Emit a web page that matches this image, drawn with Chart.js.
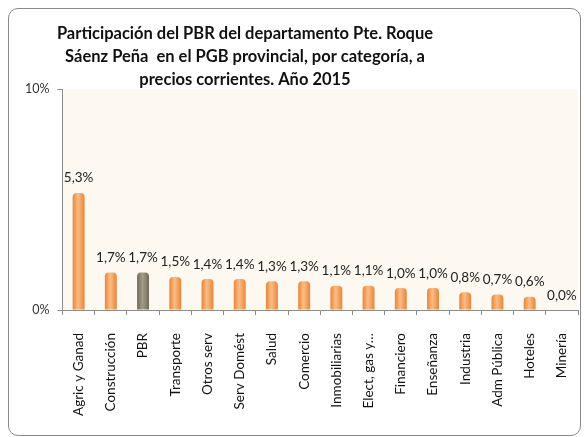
<!DOCTYPE html>
<html>
<head>
<meta charset="utf-8">
<script src="https://cdn.jsdelivr.net/npm/chart.js@4"></script>
<style>
body { margin: 0; background: #fff; }
#box { position: absolute; left: 8px; top: 8px; width: 573px; height: 428px; box-sizing: border-box;
       border: 1px solid #8a8a8a; border-radius: 10px; background: #fff; overflow: hidden; }
#c { position: absolute; left: 0; top: 0; }
</style>
</head>
<body>
<div id="box"><canvas id="c" width="571" height="426"></canvas></div>
<script>
const categories = ["Agric y Ganad", "Construcción", "PBR", "Transporte", "Otros serv", "Serv Domést", "Salud",
    "Comercio", "Inmobiliarias", "Elect, gas y…", "Financiero", "Enseñanza", "Industria", "Adm Pública",
    "Hoteles", "Minería"];
const shares = [5.3, 1.7, 1.7, 1.5, 1.4, 1.4, 1.3, 1.3, 1.1, 1.1, 1.0, 1.0, 0.8, 0.7, 0.6, 0.0];
const highlighted = "PBR";
const titleLines = ["Participación del PBR del departamento Pte. Roque",
    "Sáenz Peña  en el PGB provincial, por categoría, a",
    "precios corrientes. Año 2015"];
const yMin = 0, yMax = 10;

const fontFamily = "Lato, 'Liberation Sans', sans-serif";

function fmt(v) {
    return v.toFixed(1).replace(".", ",") + "%";
}

// cylinder-ish look: horizontal gradient across each bar
function barFill(ctx) {
    const chart = ctx.chart;
    const isPbr = categories[ctx.dataIndex] === highlighted;
    const flat = isPbr ? "#8a8470" : "#f4a25a";
    if (!chart.chartArea || ctx.type !== "data") return flat;
    const x = chart.scales.x.getPixelForValue(ctx.dataIndex);
    const g = chart.ctx.createLinearGradient(x - 6, 0, x + 6, 0);
    if (isPbr) {
        g.addColorStop(0, "#6e6a58");
        g.addColorStop(0.45, "#a39d88");
        g.addColorStop(1, "#6e6a58");
    } else {
        g.addColorStop(0, "#e8843a");
        g.addColorStop(0.45, "#fbbd84");
        g.addColorStop(1, "#e8843a");
    }
    return g;
}

const plotBackground = {
    id: "plotBackground",
    beforeDraw(chart) {
        const a = chart.chartArea;
        chart.ctx.save();
        chart.ctx.fillStyle = "#fdf8f0";
        chart.ctx.fillRect(a.left, a.top, a.right - a.left, a.bottom - a.top);
        chart.ctx.restore();
    }
};

const valueLabels = {
    id: "valueLabels",
    afterDatasetsDraw(chart) {
        const c = chart.ctx;
        const meta = chart.getDatasetMeta(0);
        c.save();
        c.font = "13.5px " + fontFamily;
        c.fillStyle = "#222";
        c.textAlign = "center";
        c.textBaseline = "bottom";
        meta.data.forEach((bar, i) => {
            c.fillText(fmt(shares[i]), bar.x, bar.y - 8);
        });
        c.restore();
    }
};

const chartTitle = {
    id: "chartTitle",
    afterDraw(chart) {
        const c = chart.ctx;
        c.save();
        c.font = "bold 16.5px " + fontFamily;
        c.fillStyle = "#111";
        c.textAlign = "center";
        c.textBaseline = "middle";
        titleLines.forEach((line, i) => {
            c.fillText(line, 236, 25 + i * 23);
        });
        c.restore();
    }
};

new Chart(document.getElementById("c"), {
    type: "bar",
    data: {
        labels: categories,
        datasets: [{
            data: shares,
            backgroundColor: barFill,
            borderWidth: 0,
            borderRadius: { topLeft: 4, topRight: 4 },
            borderSkipped: "bottom",
            categoryPercentage: 1,
            barPercentage: 0.37
        }]
    },
    options: {
        responsive: false,
        animation: false,
        layout: { padding: { top: 80, left: 8, right: 2, bottom: 1 } },
        plugins: {
            legend: { display: false },
            tooltip: { enabled: false }
        },
        scales: {
            x: {
                afterFit: scale => { scale.paddingRight = 0; },
                grid: { offset: true, drawOnChartArea: false, tickLength: 5, color: "#8c8c8c" },
                border: { color: "#8c8c8c" },
                ticks: {
                    minRotation: 90, maxRotation: 90, padding: 18, autoSkip: false,
                    color: "#111", font: { family: fontFamily, size: 13.5 }
                }
            },
            y: {
                min: yMin, max: yMax,
                grid: { drawOnChartArea: false, tickLength: 5, color: "#8c8c8c" },
                border: { color: "#8c8c8c" },
                ticks: {
                    stepSize: 10, padding: 8,
                    color: "#333", font: { family: fontFamily, size: 12.5 },
                    callback: v => v + "%"
                }
            }
        }
    },
    plugins: [plotBackground, valueLabels, chartTitle]
});
</script>
</body>
</html>
